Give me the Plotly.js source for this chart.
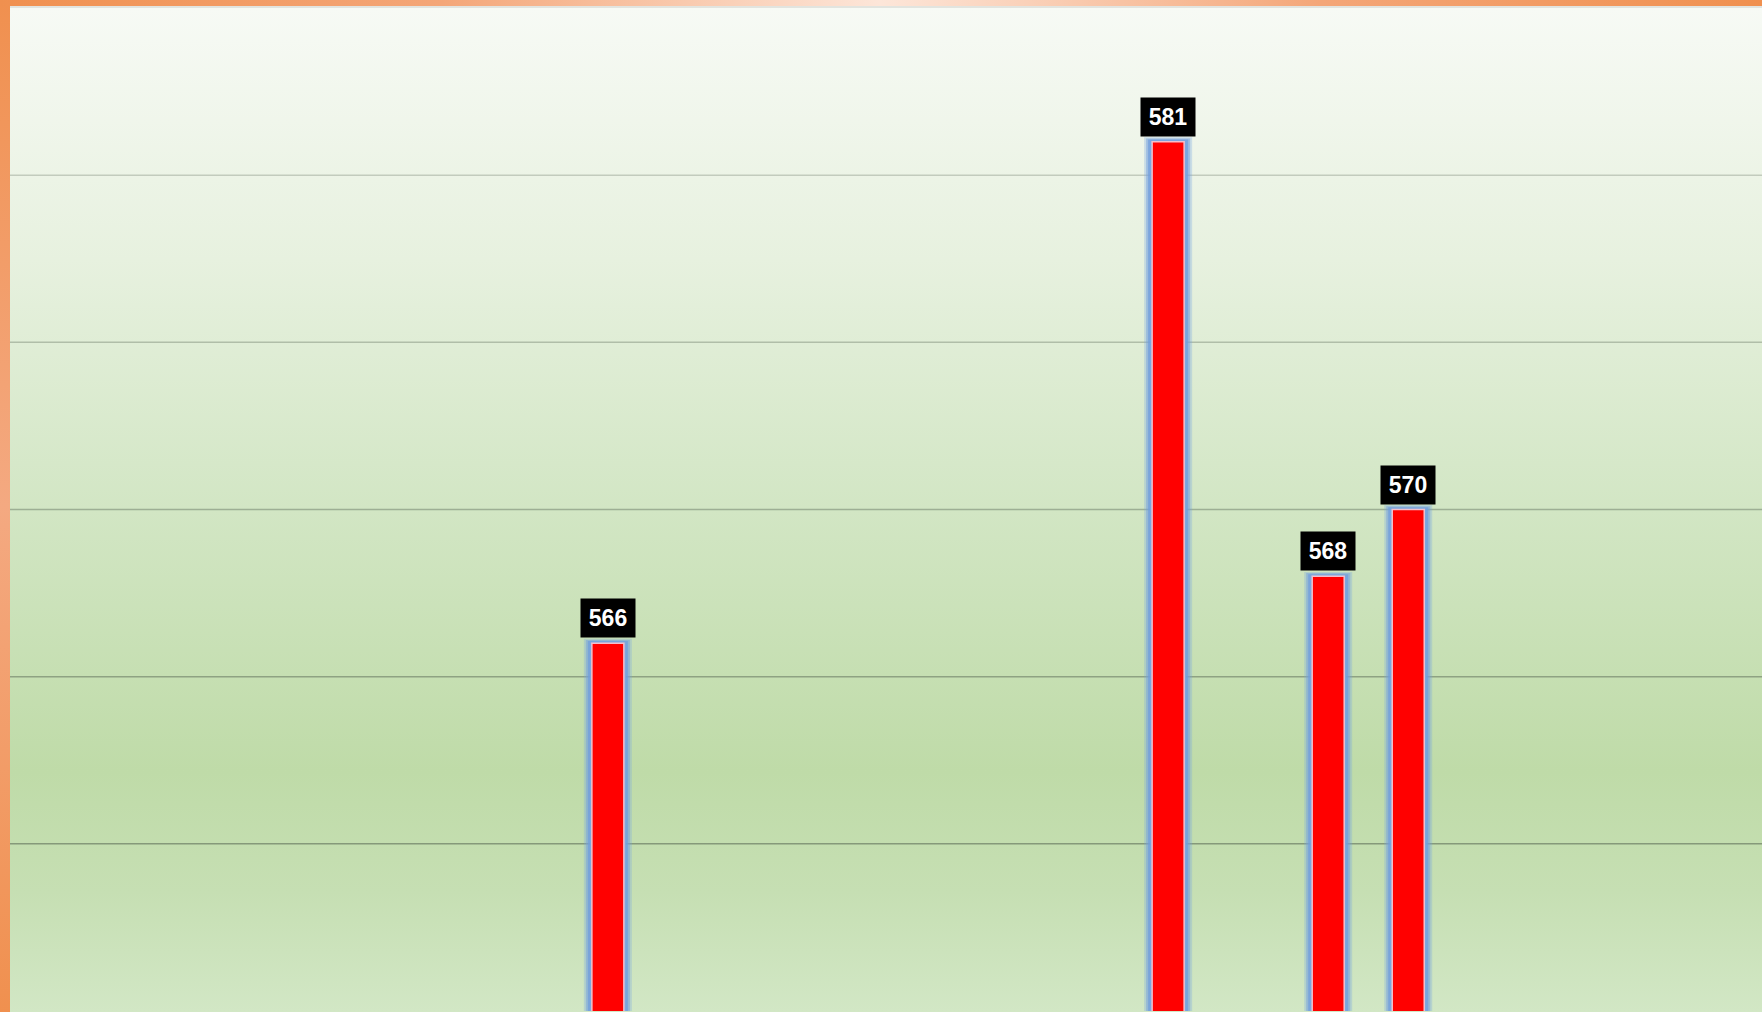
<!DOCTYPE html>
<html>
<head>
<meta charset="utf-8">
<script src="https://cdn.plot.ly/plotly-3.0.1.min.js"></script>
<style>
  html, body { margin: 0; padding: 0; width: 1762px; height: 1012px; overflow: hidden; background: #ffffff; }
  #frame {
    position: absolute; left: 0; top: 0; width: 1762px; height: 1012px;
    background:
      linear-gradient(to right, #f0904f 0%, #f4a678 25%, #fde6d9 50%, #f4a678 75%, #f0904f 100%) top left / 1762px 6px no-repeat,
      linear-gradient(to bottom, #f0904f 0%, #f4a981 50%, #f0904f 100%) top left / 10px 1012px no-repeat,
      #ffffff;
  }
  #grayline { position: absolute; left: 10px; top: 6px; width: 1752px; height: 2px; background: #e2e4df; }
  #plotbg {
    position: absolute; left: 10px; top: 8px; width: 1752px; height: 1004px;
    background: linear-gradient(to bottom, #f7faf5 0%, #e7f1df 25%, #d2e6c4 50%, #bfdba8 76%, #c6dfb3 88%, #d2e7c5 100%);
  }
  #chart { position: absolute; left: 10px; top: 8px; width: 1752px; height: 1003px; }
</style>
</head>
<body>
<div id="frame"></div>
<div id="grayline"></div>
<div id="plotbg"></div>
<div id="chart"></div>
<script>
// ---- data ----
const categoryIndex = [7, 14, 16, 17];
const values = [566, 581, 568, 570];
const valueLabels = ['566', '581', '568', '570'];

// ---- axis ----
const yMin = 555, yMax = 585, yStep = 5;

// ---- style ----
const pxPerUnitY = 1003 / (yMax - yMin);
const glowLayers = [
  { extra: 8, color: 'rgba(120,165,225,0.30)' },
  { extra: 6, color: 'rgba(115,160,222,0.50)' },
  { extra: 4, color: 'rgba(112,158,220,0.75)' },
  { extra: 2, color: 'rgba(125,166,222,0.95)' }
];
const barPx = 32;
const catPx = 1752 / 21.89;

const traces = glowLayers.map(g => ({
  type: 'bar',
  x: categoryIndex,
  y: values.map(v => v + (g.extra * 0.55) / pxPerUnitY),
  width: (barPx + 2 * g.extra) / catPx,
  marker: { color: g.color, line: { width: 0 } },
  hoverinfo: 'skip',
  showlegend: false
}));

traces.push({
  type: 'bar',
  x: categoryIndex,
  y: values,
  width: barPx / catPx,
  marker: { color: '#ff0000', line: { color: '#f3c0cc', width: 1.5 } },
  showlegend: false
});

const annotations = categoryIndex.map((c, i) => ({
  x: c, y: values[i], xref: 'x', yref: 'y',
  text: '<b>' + valueLabels[i] + '</b>',
  showarrow: false,
  yanchor: 'bottom', xanchor: 'center',
  yshift: 5,
  bgcolor: '#000000',
  borderpad: 0,
  width: 54, height: 38,
  font: { family: 'Liberation Sans, Arial, sans-serif', size: 23, color: '#ffffff' }
}));

// gridlines, darker toward the bottom as in the reference
const shapes = [];
for (let v = yMin + yStep; v < yMax; v += yStep) {
  const f = (yMax - v) / (yMax - yMin);
  const a = 0.18 + 0.32 * f;
  shapes.push({
    type: 'line', xref: 'paper', yref: 'y', x0: 0, x1: 1, y0: v, y1: v,
    line: { color: 'rgba(55,70,55,' + a.toFixed(3) + ')', width: 1.5 },
    layer: 'below'
  });
}

const layout = {
  width: 1752, height: 1003,
  margin: { l: 0, r: 0, t: 0, b: 0, pad: 0 },
  paper_bgcolor: 'rgba(0,0,0,0)',
  plot_bgcolor: 'rgba(0,0,0,0)',
  barmode: 'overlay',
  showlegend: false,
  xaxis: {
    type: 'linear', range: [-0.47, 21.42],
    showgrid: false, zeroline: false, showticklabels: false, ticks: '',
    showline: true, linecolor: '#7b887b', linewidth: 2
  },
  yaxis: {
    range: [yMin, yMax], dtick: yStep, tick0: yMin,
    showgrid: false, zeroline: false, showticklabels: false, ticks: '', showline: false
  },
  shapes: shapes,
  annotations: annotations
};

Plotly.newPlot('chart', traces, layout, { staticPlot: true, displayModeBar: false });
</script>
</body>
</html>
